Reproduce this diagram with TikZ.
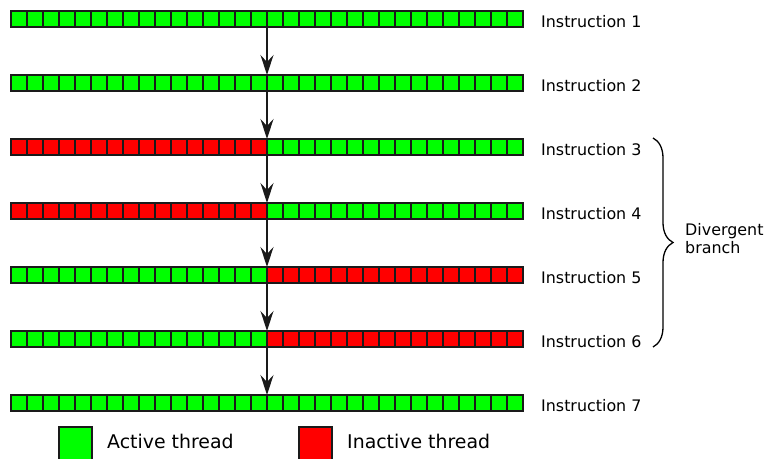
\documentclass[tikz,border=0pt]{standalone}
\usepackage{fontspec}
\setmainfont{DejaVu Sans}
\usetikzlibrary{arrows.meta,decorations.pathreplacing}
\definecolor{activegreen}{RGB}{0,255,0}
\definecolor{inactivered}{RGB}{255,0,0}
\definecolor{edgegray}{RGB}{26,26,26}
\begin{document}
\begin{tikzpicture}[x=1pt,y=-1pt,
  cell/.style={draw=edgegray,line width=1.4pt},
  lane/.style={minimum width=512pt,minimum height=16pt,inner sep=0pt,outer sep=0pt},
  instr/.style={anchor=base west,inner sep=0pt,font=\fontsize{15.9}{19}\selectfont},
  flow/.style={draw=edgegray,line width=1.3pt,-{Stealth[length=20pt,width=13pt,inset=7pt]}},
  keybox/.style={draw=edgegray,line width=1.2pt,minimum size=33pt,inner sep=0pt},
  keytext/.style={anchor=base west,inner sep=0pt,font=\fontsize{18.9}{22}\selectfont}]
\useasboundingbox (0,0) rectangle (765,458);

% warp lanes: 32 threads each, left half / right half colouring
\foreach \i/\lc/\rc in {1/activegreen/activegreen,2/activegreen/activegreen,
    3/inactivered/activegreen,4/inactivered/activegreen,
    5/activegreen/inactivered,6/activegreen/inactivered,
    7/activegreen/activegreen}{
  \pgfmathsetmacro\yc{19+64*(\i-1)}
  \node[lane] (r\i) at (267,\yc) {};
  \foreach \k in {0,...,15}
    \draw[cell,fill=\lc] ({11+16*\k},{\yc-8}) rectangle ++(16,16);
  \foreach \k in {16,...,31}
    \draw[cell,fill=\rc] ({11+16*\k},{\yc-8}) rectangle ++(16,16);
  \node[instr] (t\i) at (541,{\yc+8}) {Instruction \i};
}

% control flow between instructions
\foreach \i [evaluate=\i as \j using int(\i+1)] in {1,...,6}
  \draw[flow] (r\i.south) -- (r\j.north);

% divergent branch brace
\coordinate (btop) at (653,138);
\coordinate (bbot) at (653,347);
\draw[line width=1.3pt,decorate,decoration={brace,amplitude=20pt}] (btop) -- (bbot);
\node[anchor=base west,align=left,inner sep=0pt,font=\fontsize{15.9}{18}\selectfont]
  (div) at (685,253) {Divergent\\branch};

% legend
\node[keybox,fill=activegreen] (kact) at (75.5,443.5) {};
\node[keytext] (tact) at (107,448) {Active thread};
\node[keybox,fill=inactivered] (kina) at (315.5,443.5) {};
\node[keytext] (tina) at (347,448) {Inactive thread};
\end{tikzpicture}
\end{document}
